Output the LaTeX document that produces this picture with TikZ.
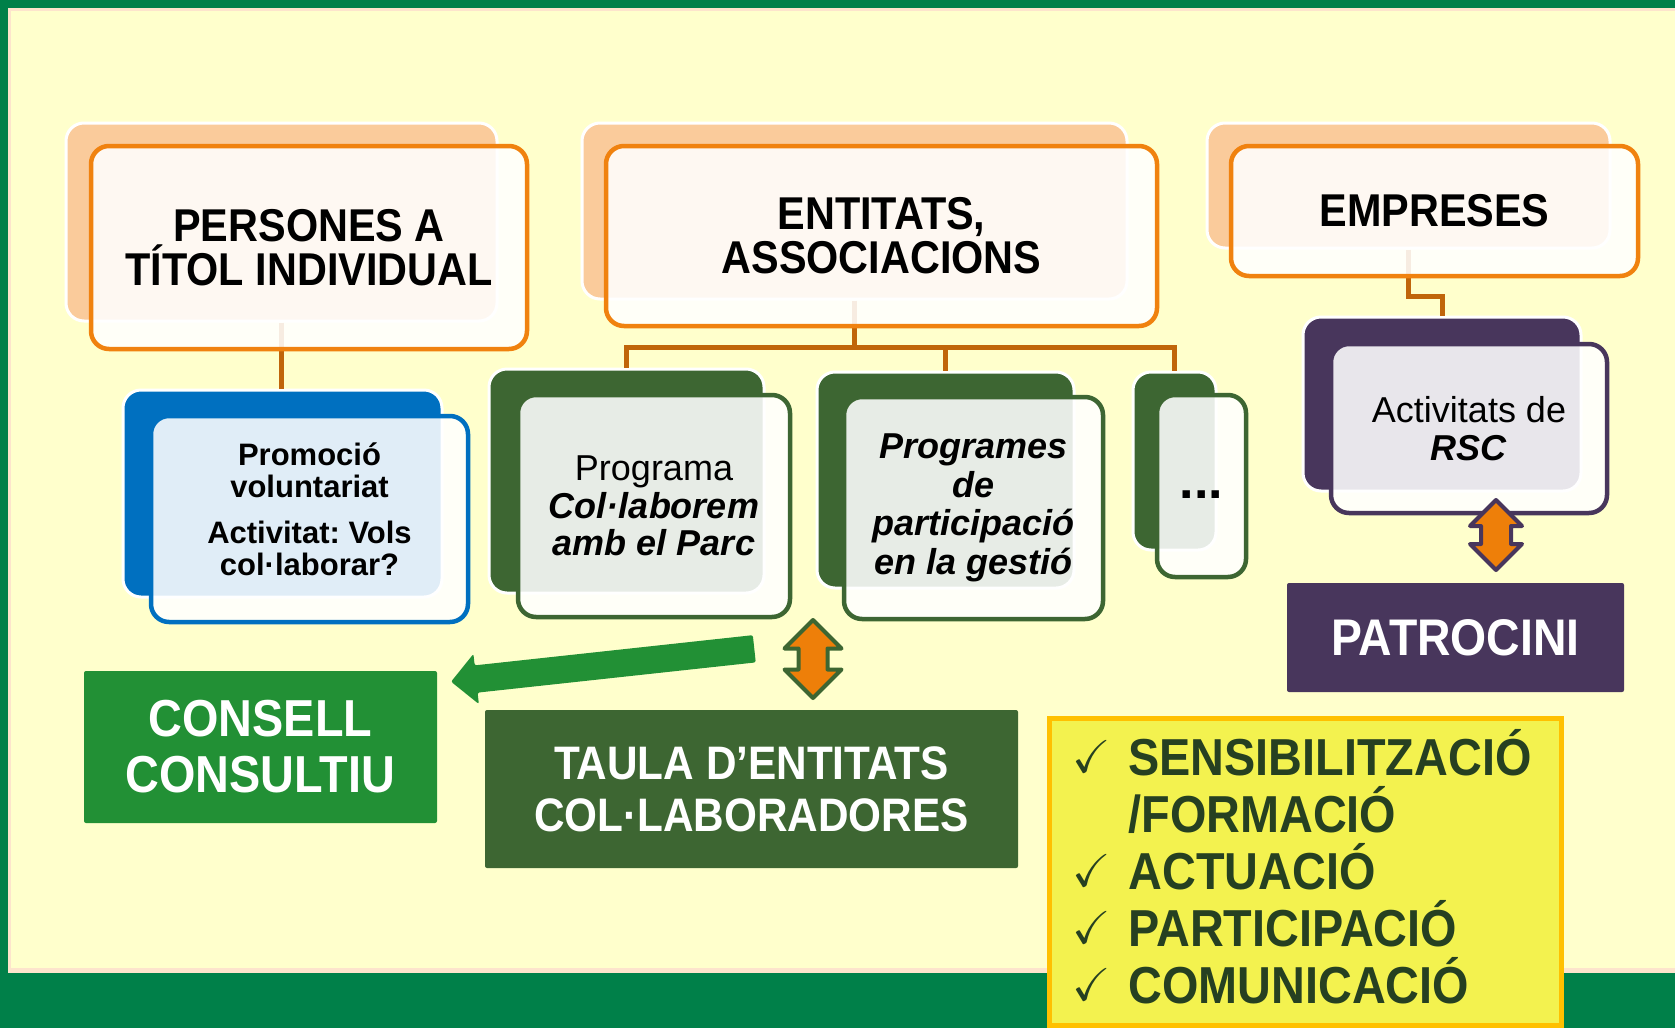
\documentclass[tikz,border=0pt]{standalone}
\usepackage{amssymb}
\usepackage{fontspec}
\setmainfont{Liberation Sans}
\newfontfamily\narrowfont[FakeStretch=0.9]{Liberation Sans}
\usetikzlibrary{shapes.arrows,calc}

\definecolor{framegreen}{RGB}{0,128,73}
\definecolor{cream}{RGB}{255,255,204}
\definecolor{creamedge}{RGB}{253,228,204}
\definecolor{peach}{RGB}{250,203,155}
\definecolor{orangeline}{RGB}{240,130,15}
\definecolor{connbrown}{RGB}{192,101,10}
\definecolor{boxblue}{RGB}{0,112,192}
\definecolor{darkgreen}{RGB}{61,102,50}
\definecolor{plum}{RGB}{72,54,92}
\definecolor{arroworange}{RGB}{238,127,9}
\definecolor{councilgreen}{RGB}{34,144,53}
\definecolor{listyellow}{RGB}{243,242,79}
\definecolor{listgold}{RGB}{255,192,0}
\definecolor{listtext}{RGB}{38,64,33}

\newcommand{\headfont}{\narrowfont\bfseries\fontsize{46}{44}\selectfont}
\newcommand{\smallbold}{\bfseries\fontsize{31}{31.5}\selectfont}
\newcommand{\progfont}{\fontsize{36}{37.5}\selectfont}
\newcommand{\tick}{\makebox[56pt][l]{\raisebox{3pt}{\fontsize{46}{46}\selectfont$\checkmark$}}}

\tikzset{
	backbox/.style={rectangle, rounded corners=18pt, draw=white, line width=3pt, inner sep=0pt},
	frontbox/.style={rectangle, rounded corners=18pt, line width=4.5pt, fill=white, fill opacity=0.88, text opacity=1, inner sep=0pt, align=center},
	boxdim/.style 2 args={minimum width=#1pt, minimum height=#2pt},
	conn/.style={draw=connbrown, line width=5pt},
	flatbox/.style={rectangle, rounded corners=2pt, inner sep=0pt, align=center, text=white},
	updown/.style={double arrow, rotate=90, fill=arroworange, line width=4pt, line join=round, inner xsep=0pt, double arrow head indent=0pt}
}

\begin{document}
\frenchspacing
\begin{tikzpicture}[x=1pt, y=-1pt]
	\useasboundingbox (0,0) rectangle (1675,1028);
	% frame
	\fill[framegreen] (0,0) rectangle (1675,1028);
	\fill[creamedge] (8,8) rectangle (1675,973);
	\fill[cream] (11,11) rectangle (1675,968);

	% back boxes
	\node[backbox, fill=peach, boxdim={431}{198}] (persB) at (281.5,222) {};
	\node[backbox, fill=peach, boxdim={545}{176}] (entB) at (854.5,211) {};
	\node[backbox, fill=peach, boxdim={403}{125}] (empB) at (1408.5,185.5) {};
	\node[backbox, fill=boxblue, boxdim={319}{207}] (volB) at (282.5,493.5) {};
	\node[backbox, fill=darkgreen, boxdim={275}{224}] (progB) at (626.5,481) {};
	\node[backbox, fill=darkgreen, boxdim={257}{216}] (progsB) at (945.5,480) {};
	\node[backbox, fill=darkgreen, boxdim={83}{178}] (dotsB) at (1174.5,461) {};
	\node[backbox, fill=plum, boxdim={278}{174}] (actB) at (1442,404) {};

	% connectors
	\coordinate (entBar) at (0,347.5);
	\coordinate (empBend) at (0,296.5);
	\draw[conn] (persB.south) -- (persB.south |- volB.north);
	\draw[conn] (entB.south) -- (entB.south |- entBar);
	\draw[conn] (progB.north) |- (dotsB.north |- entBar) -- (dotsB.north);
	\draw[conn] (progsB.north) -- (progsB.north |- entBar);
	\draw[conn] (empB.south) -- (empB.south |- empBend) -| (actB.north);

	% front boxes
	\node[frontbox, draw=orangeline, boxdim={436}{203}, font=\headfont] (pers) at (309,247.5) {PERSONES A\\TÍTOL INDIVIDUAL};
	\node[frontbox, draw=orangeline, boxdim={551}{180}, font=\headfont] (ent) at (881.5,236) {ENTITATS,\\ASSOCIACIONS};
	\node[frontbox, draw=orangeline, boxdim={407}{130}, font=\headfont] (emp) at (1434.5,211) {EMPRESES};
	\node[frontbox, draw=boxblue, boxdim={317}{206}, font=\smallbold] (vol) at (309.5,519) {Promoció\\voluntariat\\[15pt]Activitat: Vols\\col·laborar?\rule[-20pt]{0pt}{1pt}};
	\node[frontbox, draw=darkgreen, boxdim={272}{222}, font=\progfont] (prog) at (654,506) {Programa\\\textbf{\textit{Col·laborem}}\\\textbf{\textit{amb el Parc}}};
	\node[frontbox, draw=darkgreen, boxdim={259}{222}, font={\bfseries\itshape\fontsize{36}{38.5}\selectfont}] (progs) at (973.5,508) {Programes\\de\\participació\\en la gestió};
	\node[frontbox, draw=darkgreen, boxdim={89}{182}, font={\bfseries\fontsize{52}{64}\selectfont}] (dots) at (1201.5,486) {\strut...};
	\node[frontbox, draw=plum, boxdim={276}{169}, font=\progfont] (act) at (1469,428.5) {Activitats de\\\textbf{\textit{RSC}}};

	% arrows
	\node[updown, draw=plum, inner ysep=13pt, minimum height=70pt, double arrow head extend=11pt] (rscArrow) at (1496,535) {};
	\node[updown, draw=darkgreen, inner ysep=12.5pt, minimum height=78pt, double arrow head extend=14pt] (tableArrow) at (813,659) {};
	\node[single arrow, fill=councilgreen, rounded corners=2pt, minimum height=305pt, inner xsep=0pt, inner ysep=13.5pt, single arrow head extend=11.5pt, rotate=186.2] (toCouncil) at (609.5,664.5) {};

	% flat boxes
	\node[flatbox, fill=plum, boxdim={337}{109}, font={\narrowfont\bfseries\fontsize{51.5}{50}\selectfont}] (sponsor) at (1455.5,637.5) {PATROCINI};
	\node[flatbox, fill=councilgreen, boxdim={353}{152}, font={\narrowfont\bfseries\fontsize{52}{56}\selectfont}] (council) at (260.5,747) {CONSELL\\CONSULTIU};
	\node[flatbox, fill=darkgreen, boxdim={533}{158}, font={\narrowfont\bfseries\fontsize{47}{52}\selectfont}] (table) at (751.5,789) {TAULA D’ENTITATS\\COL·LABORADORES};

	% list
	\node[rectangle, draw=listgold, fill=listyellow, line width=5pt, boxdim={512}{307}, inner xsep=23pt, text width=465pt, align=left, text=listtext, font={\narrowfont\bfseries\fontsize{52}{57}\selectfont}] (tasks) at (1305,871.5) {\tick SENSIBILITZACIÓ\\
		\hspace*{56pt}/FORMACIÓ\\
		\tick ACTUACIÓ\\
		\tick PARTICIPACIÓ\\
		\tick COMUNICACIÓ\rule[-10pt]{0pt}{1pt}};
\end{tikzpicture}
\end{document}
